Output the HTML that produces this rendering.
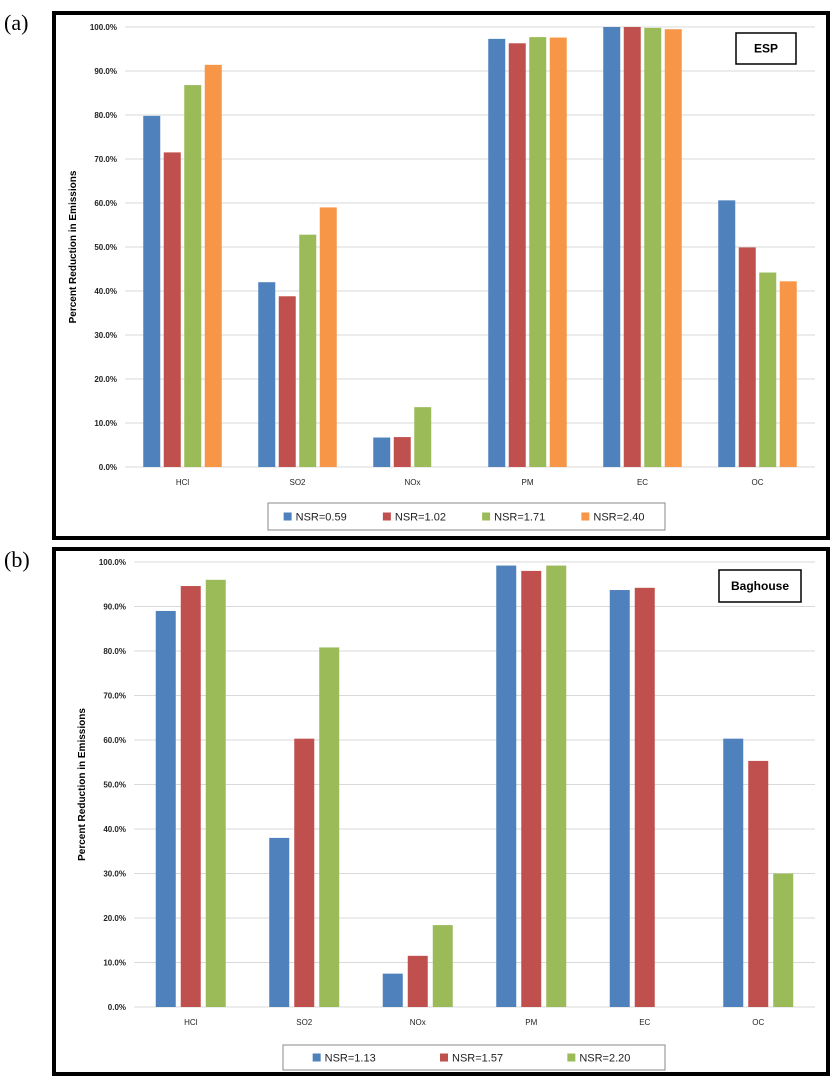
<!DOCTYPE html>
<html><head><meta charset="utf-8"><style>
body{margin:0;background:#fff;}
svg{display:block;font-family:"Liberation Sans",sans-serif;}
</style></head><body>
<svg id="s" width="840" height="1086">
<text x="4" y="30" font-family="Liberation Serif" font-size="22">(a)</text>
<text x="4" y="567" font-family="Liberation Serif" font-size="22">(b)</text>
<rect x="54" y="13" width="774" height="525" fill="none" stroke="#000" stroke-width="4"/>
<rect x="54" y="549" width="774" height="525" fill="none" stroke="#000" stroke-width="4"/>
<g id="ga"></g>
<g id="gb"></g>
</svg>
<script>
const categories=["HCl","SO2","NOx","PM","EC","OC"];
const yTicks=[0,10,20,30,40,50,60,70,80,90,100];
const espNames=["NSR=0.59","NSR=1.02","NSR=1.71","NSR=2.40"];
const esp1=[79.8,42.0,6.7,97.3,100,60.6];
const esp2=[71.5,38.8,6.8,96.3,100,49.9];
const esp3=[86.8,52.8,13.6,97.7,99.8,44.2];
const esp4=[91.4,59.0,null,97.6,99.5,42.2];
const bagNames=["NSR=1.13","NSR=1.57","NSR=2.20"];
const bag1=[89.0,38.0,7.5,99.2,93.7,60.3];
const bag2=[94.6,60.3,11.5,98.0,94.2,55.3];
const bag3=[96.0,80.8,18.4,99.2,null,30.0];
const colors=["#4f81bd","#c0504d","#9bbb59","#f79646"];
const NS="http://www.w3.org/2000/svg";
function mk(p,t,a,txt){const e=document.createElementNS(NS,t);for(const k in a)e.setAttribute(k,a[k]);if(txt!=null)e.textContent=txt;p.appendChild(e);return e;}
function chart(g,o){
  const y=v=>o.y0-(o.y0-o.y100)*v/100;
  const cw=(o.x1-o.x0)/categories.length;
  yTicks.forEach(t=>{
    const l=mk(g,"line",{x1:o.x0,x2:o.x1,y1:y(t),y2:y(t),stroke:"#d9d9d9","stroke-width":1});
    
    
    const tx=mk(g,"text",{x:o.x0-8,y:y(t)+3,"text-anchor":"end","font-size":8,"font-weight":"bold",fill:"#222"},t.toFixed(1)+"%");
    
    
  });
  const n=o.series.length;
  categories.forEach((c,i)=>{
    const cx=o.x0+cw*(i+0.5);
    o.series.forEach((s,j)=>{
      if(s[i]==null)return;
      const bx=cx-(n*o.step-(o.step-o.bw))/2+j*o.step;
      const r=mk(g,"rect",{x:bx,y:y(s[i]),width:o.bw,height:y(0)-y(s[i]),fill:colors[j]});
      
      
    });
    const tx=mk(g,"text",{x:cx,y:o.y0+18,"text-anchor":"middle","font-size":8,fill:"#222"},c);
    
    
  });
  const yl=mk(g,"text",{transform:`translate(${o.ylx},${(o.y0+o.y100)/2}) rotate(-90)`,"text-anchor":"middle","font-size":10,"font-weight":"bold"},"Percent Reduction in Emissions");
  
  
  const tb=mk(g,"rect",{x:o.tb[0],y:o.tb[1],width:o.tb[2],height:o.tb[3],fill:"#fff",stroke:"#000","stroke-width":1.5});
  
  
  const tt=mk(g,"text",{x:o.tb[0]+o.tb[2]/2,y:o.tb[1]+o.tb[3]/2+4,"text-anchor":"middle","font-size":12,"font-weight":"bold"},o.title);
  
  
  const lb=mk(g,"rect",{x:o.lg[0],y:o.lg[1],width:o.lg[2],height:o.lg[3],fill:"#fff",stroke:"#888","stroke-width":1});
  
  
  const seg=o.lg[2]/o.names.length;
  o.names.forEach((nm,j)=>{
    const lx=o.lg[0]+seg*j+seg/2-34;
    const sw=mk(g,"rect",{x:lx,y:o.lg[1]+o.lg[3]/2-4,width:8,height:8,fill:colors[j]});
    
    
    const lt=mk(g,"text",{x:lx+12,y:o.lg[1]+o.lg[3]/2+4,"font-size":11,fill:"#222"},nm);
    
    
  });
}
chart(document.getElementById("ga"),{x0:125,x1:815,y0:467,y100:27,bw:17,step:20.5,ylx:76,series:[esp1,esp2,esp3,esp4],names:espNames,title:"ESP",tb:[736,33,60,31],lg:[268,503,397,27]});
chart(document.getElementById("gb"),{x0:134,x1:815,y0:1007,y100:562,bw:20,step:25,ylx:85,series:[bag1,bag2,bag3],names:bagNames,title:"Baghouse",tb:[719,570,82,32],lg:[283,1045,382,25]});
</script>
</body></html>
